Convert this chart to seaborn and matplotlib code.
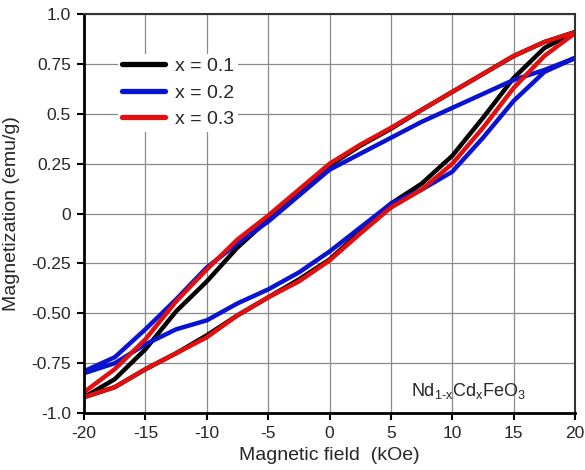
import numpy as np
import pandas as pd
import matplotlib
matplotlib.use('Agg')
import matplotlib.pyplot as plt
import seaborn as sns

# field sweep: upper branch goes 20 -> -20, lower branch -20 -> 20 (kOe)
field_down = [20, 17.5, 15, 12.5, 10, 7.5, 5, 2.5, 0, -2.5, -5, -7.5, -10, -12.5, -15, -17.5, -20]
field_up = field_down[::-1]

# magnetization (emu/g)
m_01_down = [0.91, 0.86, 0.79, 0.70, 0.61, 0.52, 0.425, 0.34, 0.24, 0.11, -0.03, -0.17, -0.34, -0.49, -0.68, -0.83, -0.92]
m_01_up = [-0.92, -0.87, -0.78, -0.70, -0.61, -0.51, -0.42, -0.33, -0.23, -0.09, 0.05, 0.15, 0.29, 0.48, 0.68, 0.83, 0.91]

m_02_down = [0.78, 0.72, 0.67, 0.60, 0.53, 0.46, 0.38, 0.30, 0.22, 0.09, -0.04, -0.15, -0.27, -0.43, -0.58, -0.72, -0.79]
m_02_up = [-0.80, -0.75, -0.655, -0.58, -0.535, -0.45, -0.38, -0.295, -0.19, -0.07, 0.05, 0.12, 0.21, 0.38, 0.565, 0.71, 0.78]

m_03_down = [0.91, 0.86, 0.79, 0.70, 0.61, 0.52, 0.43, 0.345, 0.25, 0.12, -0.01, -0.13, -0.28, -0.44, -0.63, -0.78, -0.895]
m_03_up = [-0.92, -0.87, -0.78, -0.70, -0.62, -0.51, -0.42, -0.34, -0.235, -0.10, 0.03, 0.12, 0.25, 0.43, 0.63, 0.79, 0.905]

labels = ['x = 0.1', 'x = 0.2', 'x = 0.3']
colors = ['#000000', '#0a14d0', '#e01010']

loops = []
for lab, down, up in zip(labels, [m_01_down, m_02_down, m_03_down], [m_01_up, m_02_up, m_03_up]):
    loops.append(pd.DataFrame({'H': field_down + field_up, 'M': down + up, 'sample': lab}))
df = pd.concat(loops, ignore_index=True)

sns.set_style('white')
plt.rcParams['font.family'] = ['Liberation Sans', 'DejaVu Sans']
plt.rcParams['mathtext.default'] = 'regular'

fig = plt.figure(figsize=(5.85, 4.7), dpi=100)
ax = fig.add_axes([0.1436, 0.121, 0.8394, 0.849])

for lab, col in zip(labels, colors):
    sub = df[df['sample'] == lab]
    sns.lineplot(data=sub, x='H', y='M', sort=False, estimator=None, color=col,
                 linewidth=3.2, ax=ax, label=lab)

ax.set_xlim(-20, 20)
ax.set_ylim(-1.0, 1.0)
ax.set_xticks(np.arange(-20, 21, 5))
ax.set_xticklabels([str(v) for v in range(-20, 21, 5)], fontsize=12.5)
ax.set_yticks([-1.0, -0.75, -0.5, -0.25, 0, 0.25, 0.5, 0.75, 1.0])
ax.set_yticklabels(['-1.0', '-0.75', '-0.50', '-0.25', '0', '0.25', '0.5', '0.75', '1.0'], fontsize=12.5)
ax.grid(True, color='#8a8a8a', linewidth=0.9)
ax.set_axisbelow(True)

for side in ['left', 'bottom']:
    ax.spines[side].set_color('black')
    ax.spines[side].set_linewidth(2)
for side in ['top', 'right']:
    ax.spines[side].set_color('#333333')
    ax.spines[side].set_linewidth(1.5)
ax.tick_params(axis='both', direction='out', length=5, width=1.5, color='black', pad=4.5,
               bottom=True, left=True, top=False, right=False)

ax.set_xlabel('Magnetic field  (kOe)', fontsize=14, labelpad=4)
ax.set_ylabel('Magnetization (emu/g)', fontsize=14, labelpad=8)

ax.text(11.3, -0.89, 'Nd$_{1\u2010x}$Cd$_x$FeO$_3$', fontsize=13, ha='center', va='center')

# white box without border hides the grid behind the legend, as in the original
leg = ax.legend(loc='upper left', bbox_to_anchor=(0.05, 0.925), frameon=True, fancybox=False,
                facecolor='white', edgecolor='none', framealpha=1, borderpad=0.2,
                fontsize=14, handlelength=2.2, handletextpad=0.5, labelspacing=0.45)
for line in leg.get_lines():
    line.set_linewidth(3.8)

fig.savefig('out.png', dpi=100)
